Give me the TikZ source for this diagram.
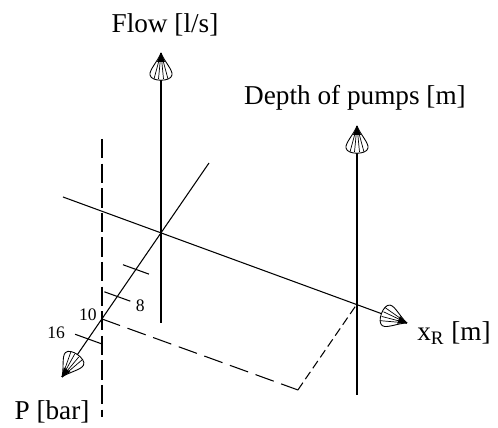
\documentclass[tikz,border=0pt]{standalone}
\usepackage{fontspec}
\setmainfont{Liberation Serif}
\usepackage{tikz}
\usetikzlibrary{calc, positioning}

\tikzset{
  axisline/.style={line width=0.6pt},
  mainline/.style={line width=0.8pt},
  guideline/.style={line width=0.6pt, dash pattern=on 11pt off 3pt},
  shortdash/.style={line width=0.6pt, dash pattern=on 5pt off 2.5pt},
  axislabel/.style={font=\fontsize{15.5}{17}\selectfont, inner sep=0pt},
  ticklabel/.style={font=\fontsize{10}{12}\selectfont, inner sep=0pt},
  shell/.pic={
    \draw[line width=0.5pt, fill=white] (0,0) .. controls (-8,3) and (-17,12) .. (-22,11)
      .. controls (-29,10) and (-29,-10) .. (-22,-11)
      .. controls (-17,-12) and (-8,-3) .. (0,0);
    \foreach \r in {-7,-2.5,2.5,7}
      \draw[line width=0.4pt] (0,0) -- (-26,\r);
    \fill (0,0) -- (-9,4) -- (-9,-4) -- cycle;
  }
}

\begin{document}
\begin{tikzpicture}[x=0.02cm, y=0.02cm]
  \useasboundingbox (0,0) rectangle (498,428);

  % Points
  \coordinate (O) at (161,195);
  \coordinate (flowtip) at (161,375);
  \coordinate (flowend) at (161,105);
  \coordinate (depthtip) at (357,302);
  \coordinate (depthend) at (357,33);
  \coordinate (xstart) at (63,231);
  \coordinate (xtip) at (407,105);
  \coordinate (pstart) at (209,265);
  \coordinate (ptip) at (62,51);
  \coordinate (C) at (357,124);
  \coordinate (A) at ($(O)!0.597!(ptip)$);
  \coordinate (B) at ($(A)+(C)-(O)$);
  \coordinate (dashtop) at (102,289);
  \coordinate (dashend) at (102,11);

  % Guide lines
  \draw[guideline] (dashtop) -- (dashend);
  \draw[guideline, dash pattern=on 11pt off 4.5pt] (A) -- (B);
  \draw[shortdash] (B) -- (C);

  % Axes
  \draw[mainline] (flowend) -- (flowtip);
  \draw[mainline] (depthend) -- (depthtip);
  \draw[axisline] (xstart) -- (xtip);
  \draw[axisline] (pstart) -- (ptip);

  % Ticks on P axis
  \foreach \t/\nm in {0.253/a, 0.441/b, 0.736/c} {
    \coordinate (tick\nm) at ($(O)!\t!(ptip)$);
    \draw[axisline] ($(tick\nm)+(-13,4.7)$) -- ($(tick\nm)+(13,-4.7)$);
  }
  \node[ticklabel] (lab8) at ($(tickb)+(23,-9)$) {8};
  \node[ticklabel] (lab10) at ($(A)+(-14,4)$) {10};
  \node[ticklabel] (lab16) at ($(tickc)+(-32,6)$) {16};

  % Arrow heads
  \pic[rotate=90] at (flowtip) {shell};
  \pic[rotate=90] at (depthtip) {shell};
  \pic[rotate=-20] at (xtip) {shell};
  \pic[rotate=235.5] at (ptip) {shell};

  % Labels
  \node[axislabel] (flowlab) at (165,403) {Flow [l/s]};
  \node[axislabel] (depthlab) at (355,330) {Depth of pumps [m]};
  \node[axislabel] (xlab) at (454,95) {x\textsubscript{R} [m]};
  \node[axislabel] (plab) at (52,16) {P [bar]};
\end{tikzpicture}
\end{document}
